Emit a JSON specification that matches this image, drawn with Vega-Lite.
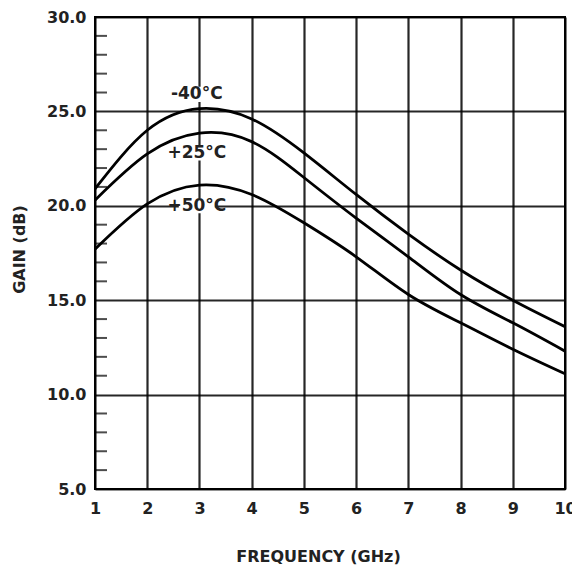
{
  "$schema": "https://vega.github.io/schema/vega-lite/v6.json",
  "width": 470,
  "height": 472,
  "autosize": {"type": "none"},
  "padding": {"left": 95, "top": 17, "right": 7, "bottom": 82},
  "background": "white",
  "config": {
    "view": {"stroke": "black", "strokeWidth": 2},
    "font": "DejaVu Sans"
  },
  "datasets": {
    "curves": [
      {"freq": 1, "gain": 20.9, "temp": "-40°C"},
      {"freq": 2, "gain": 24.0, "temp": "-40°C"},
      {"freq": 3, "gain": 25.15, "temp": "-40°C"},
      {"freq": 4, "gain": 24.6, "temp": "-40°C"},
      {"freq": 5, "gain": 22.8, "temp": "-40°C"},
      {"freq": 6, "gain": 20.6, "temp": "-40°C"},
      {"freq": 7, "gain": 18.5, "temp": "-40°C"},
      {"freq": 8, "gain": 16.6, "temp": "-40°C"},
      {"freq": 9, "gain": 15.0, "temp": "-40°C"},
      {"freq": 10, "gain": 13.6, "temp": "-40°C"},
      {"freq": 1, "gain": 20.3, "temp": "+25°C"},
      {"freq": 2, "gain": 22.75, "temp": "+25°C"},
      {"freq": 3, "gain": 23.85, "temp": "+25°C"},
      {"freq": 4, "gain": 23.4, "temp": "+25°C"},
      {"freq": 5, "gain": 21.5, "temp": "+25°C"},
      {"freq": 6, "gain": 19.35, "temp": "+25°C"},
      {"freq": 7, "gain": 17.3, "temp": "+25°C"},
      {"freq": 8, "gain": 15.3, "temp": "+25°C"},
      {"freq": 9, "gain": 13.8, "temp": "+25°C"},
      {"freq": 10, "gain": 12.3, "temp": "+25°C"},
      {"freq": 1, "gain": 17.7, "temp": "+50°C"},
      {"freq": 2, "gain": 20.1, "temp": "+50°C"},
      {"freq": 3, "gain": 21.1, "temp": "+50°C"},
      {"freq": 4, "gain": 20.6, "temp": "+50°C"},
      {"freq": 5, "gain": 19.1, "temp": "+50°C"},
      {"freq": 6, "gain": 17.3, "temp": "+50°C"},
      {"freq": 7, "gain": 15.3, "temp": "+50°C"},
      {"freq": 8, "gain": 13.8, "temp": "+50°C"},
      {"freq": 9, "gain": 12.4, "temp": "+50°C"},
      {"freq": 10, "gain": 11.1, "temp": "+50°C"}
    ],
    "labels": [
      {"freq": 2.95, "gain": 25.9, "label": "-40°C"},
      {"freq": 2.95, "gain": 22.8, "label": "+25°C"},
      {"freq": 2.95, "gain": 20.0, "label": "+50°C"}
    ]
  },
  "layer": [
    {
      "data": {"name": "curves"},
      "mark": {"type": "line", "color": "black", "strokeWidth": 2.8, "interpolate": "natural", "clip": true},
      "encoding": {
        "x": {
          "field": "freq", "type": "quantitative",
          "scale": {"domain": [1, 10], "nice": false, "zero": false},
          "axis": {
            "values": [1, 2, 3, 4, 5, 6, 7, 8, 9, 10],
            "grid": true, "gridColor": "black", "gridWidth": 2.2, "gridOpacity": 0.85,
            "domain": false, "ticks": false,
            "labelFont": "DejaVu Sans", "labelFontWeight": "bold", "labelFontSize": 16,
            "labelColor": "#222", "labelPadding": 11, "labelFlush": false,
            "title": "FREQUENCY (GHz)", "titleFont": "DejaVu Sans", "titleFontWeight": "bold",
            "titleFontSize": 16, "titleColor": "#222", "titlePadding": 32, "titleX": 223
          }
        },
        "y": {
          "field": "gain", "type": "quantitative",
          "scale": {"domain": [5, 30], "nice": false, "zero": false},
          "axis": {
            "values": [5, 10, 15, 20, 25, 30], "format": ".1f",
            "grid": true, "gridColor": "black", "gridWidth": 2.2, "gridOpacity": 0.85,
            "domain": false, "ticks": false,
            "labelFont": "DejaVu Sans", "labelFontWeight": "bold", "labelFontSize": 16,
            "labelColor": "#222", "labelPadding": 9,
            "title": "GAIN (dB)", "titleFont": "DejaVu Sans", "titleFontWeight": "bold",
            "titleFontSize": 16, "titleColor": "#222", "titlePadding": 19, "titleY": 232
          }
        },
        "detail": {"field": "temp"}
      }
    },
    {
      "data": {"name": "labels"},
      "mark": {"type": "point", "shape": "M-1,-0.42L1,-0.42L1,0.42L-1,0.42Z", "size": 1300, "filled": true, "color": "white", "opacity": 1},
      "encoding": {
        "x": {"field": "freq", "type": "quantitative"},
        "y": {"field": "gain", "type": "quantitative"}
      }
    },
    {
      "data": {"name": "labels"},
      "mark": {"type": "text", "font": "DejaVu Sans", "fontSize": 17, "fontWeight": "bold", "color": "#222"},
      "encoding": {
        "x": {"field": "freq", "type": "quantitative"},
        "y": {"field": "gain", "type": "quantitative"},
        "text": {"field": "label"}
      }
    },
    {
      "data": {"values": [{"v": 6}, {"v": 7}, {"v": 8}, {"v": 9}, {"v": 11}, {"v": 12}, {"v": 13}, {"v": 14}, {"v": 16}, {"v": 17}, {"v": 18}, {"v": 19}, {"v": 21}, {"v": 22}, {"v": 23}, {"v": 24}, {"v": 26}, {"v": 27}, {"v": 28}, {"v": 29}]},
      "mark": {"type": "tick", "orient": "horizontal", "color": "black", "thickness": 2, "size": 12, "xOffset": 6},
      "encoding": {
        "y": {"field": "v", "type": "quantitative"},
        "x": {"datum": 1, "type": "quantitative"}
      }
    }
  ]
}
